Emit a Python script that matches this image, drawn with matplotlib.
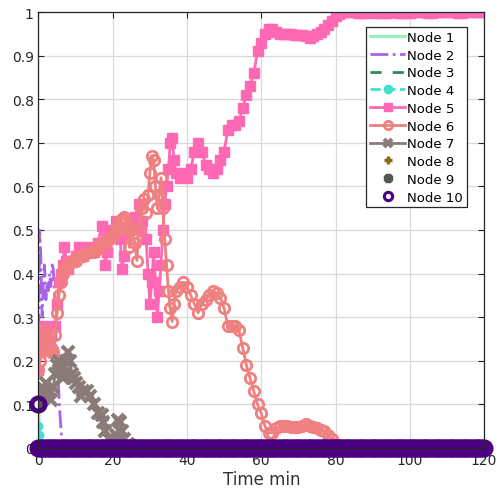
import numpy as np
import matplotlib
matplotlib.use("Agg")
import matplotlib.pyplot as plt

# Node 1..10 time series as (time in minutes, value)
node1 = [(0, 0.10), (0.2, 0.06), (0.4, 0.02), (0.6, 0.0)]

node2 = [(0, 0.20), (0.3, 0.50), (0.6, 0.45), (0.8, 0.35), (1.0, 0.30), (1.3, 0.38), (1.6, 0.42),
         (2.0, 0.34), (2.3, 0.38), (2.6, 0.36), (3.0, 0.40), (3.3, 0.37), (3.7, 0.42), (4.0, 0.41),
         (4.3, 0.35), (4.6, 0.30), (4.9, 0.18), (5.3, 0.16), (5.6, 0.10), (6.0, 0.05), (6.3, 0.02),
         (6.7, 0.005), (7.0, 0.0)]

node3 = [(0, 0.0), (0.5, 0.0)]

node4 = [(0, 0.05), (0.2, 0.03), (0.4, 0.0)]

node5 = [(0, 0.18), (0.5, 0.22), (1, 0.25), (1.5, 0.28), (2, 0.26), (3, 0.24), (4, 0.22), (4.5, 0.28),
         (5, 0.33), (5.5, 0.38), (6, 0.40), (6.5, 0.42), (7, 0.46), (7.5, 0.43), (8, 0.41), (9, 0.43),
         (10, 0.44), (11, 0.46), (12, 0.44), (13, 0.45), (14, 0.46), (15, 0.45), (16, 0.47), (17, 0.51),
         (17.5, 0.47), (18, 0.42), (18.5, 0.45), (19, 0.49), (20, 0.50), (21, 0.52), (22, 0.48),
         (22.5, 0.41), (23, 0.44), (24, 0.50), (25, 0.51), (26, 0.53), (27, 0.56), (27.5, 0.50),
         (28, 0.52), (29, 0.48), (29.5, 0.40), (30, 0.33), (30.5, 0.38), (31, 0.45), (31.5, 0.38),
         (32, 0.30), (32.5, 0.36), (33, 0.42), (33.5, 0.50), (34, 0.56), (34.5, 0.60), (35, 0.64),
         (35.5, 0.70), (36, 0.71), (36.5, 0.66), (37, 0.63), (38, 0.62), (39, 0.63), (40, 0.62),
         (41, 0.64), (42, 0.68), (43, 0.70), (44, 0.68), (45, 0.65), (46, 0.64), (47, 0.63), (48, 0.64),
         (49, 0.66), (50, 0.68), (51, 0.73), (52, 0.74), (53, 0.74), (54, 0.75), (55, 0.78), (56, 0.81),
         (57, 0.83), (58, 0.86), (59, 0.91), (60, 0.93), (61, 0.95), (62, 0.96), (63, 0.96), (64, 0.955),
         (65, 0.95), (66, 0.95), (67, 0.95), (68, 0.949), (69, 0.948), (70, 0.948), (71, 0.947),
         (72, 0.945), (73, 0.94), (74, 0.945), (75, 0.95), (76, 0.955), (77, 0.96), (78, 0.97),
         (79, 0.98), (80, 0.99), (81, 0.995), (82, 1.0), (83, 1.0), (84, 1.0), (85, 0.999), (86, 0.998),
         (87, 0.998), (88, 0.998), (89, 0.999), (90, 0.999), (91, 0.998), (92, 0.998), (93, 0.998),
         (94, 0.998), (95, 0.999), (96, 0.999), (97, 0.998), (98, 0.998), (99, 0.998), (100, 0.998),
         (101, 0.999), (102, 0.999), (103, 0.999), (104, 0.999), (105, 0.998), (106, 0.998),
         (107, 0.999), (108, 0.999), (109, 0.999), (110, 0.999), (111, 0.999), (112, 0.999),
         (113, 0.998), (114, 0.998), (115, 0.999), (116, 0.999), (117, 0.999), (118, 0.999),
         (119, 0.999), (120, 0.999)]

node6 = [(0, 0.18), (0.5, 0.20), (1, 0.23), (1.5, 0.27), (2, 0.26), (2.5, 0.24), (3, 0.23), (3.5, 0.22),
         (4, 0.22), (4.5, 0.26), (5, 0.31), (5.5, 0.35), (6, 0.38), (6.5, 0.40), (7, 0.41), (7.5, 0.415),
         (8, 0.42), (8.5, 0.425), (9, 0.43), (9.5, 0.43), (10, 0.43), (10.5, 0.435), (11, 0.44),
         (11.5, 0.44), (12, 0.44), (12.5, 0.445), (13, 0.45), (13.5, 0.45), (14, 0.45), (14.5, 0.45),
         (15, 0.45), (15.5, 0.455), (16, 0.46), (16.5, 0.465), (17, 0.47), (17.5, 0.47), (18, 0.47),
         (18.5, 0.475), (19, 0.48), (19.5, 0.485), (20, 0.49), (20.5, 0.495), (21, 0.50), (21.5, 0.51),
         (22, 0.52), (22.5, 0.525), (23, 0.53), (23.5, 0.52), (24, 0.50), (24.5, 0.46),
         (25, 0.50), (26, 0.47), (26.5, 0.43), (27, 0.50), (28, 0.55), (28.5, 0.57), (29, 0.54),
         (29.5, 0.58), (30, 0.63), (30.5, 0.67), (31, 0.66), (31.5, 0.60), (32, 0.55), (32.5, 0.58),
         (33, 0.62), (33.5, 0.55), (34, 0.48), (34.5, 0.42), (35, 0.36), (35.5, 0.32), (36, 0.29),
         (36.5, 0.33), (37, 0.36), (38, 0.37), (39, 0.38), (40, 0.37), (41, 0.35), (42, 0.33), (43, 0.31),
         (44, 0.33), (45, 0.34), (46, 0.35), (47, 0.36), (48, 0.355), (49, 0.345), (50, 0.32), (51, 0.28),
         (52, 0.28), (53, 0.28), (54, 0.27), (55, 0.23), (56, 0.19), (57, 0.16), (58, 0.13), (59, 0.10),
         (60, 0.08), (61, 0.05), (62, 0.035), (63, 0.035), (64, 0.045), (65, 0.05), (66, 0.05),
         (67, 0.05), (68, 0.049), (69, 0.048), (70, 0.049), (71, 0.05), (72, 0.055), (73, 0.05),
         (74, 0.047), (75, 0.045), (76, 0.042), (77, 0.04), (78, 0.03), (79, 0.02), (80, 0.01),
         (81, 0.005), (82, 0.002), (84, 0.003), (86, 0.002), (88, 0.003), (90, 0.004), (92, 0.003),
         (94, 0.003), (96, 0.004), (98, 0.005), (100, 0.004), (102, 0.004), (104, 0.003), (106, 0.003),
         (108, 0.003), (110, 0.003), (112, 0.002), (114, 0.002), (116, 0.002), (118, 0.002),
         (120, 0.002)]

node7 = [(0, 0.10), (0.5, 0.13), (1, 0.14), (1.5, 0.12), (2, 0.15), (3, 0.13), (3.5, 0.11), (4, 0.14),
         (4.5, 0.17), (5, 0.19), (5.5, 0.20), (6, 0.18), (6.5, 0.16), (7, 0.17), (7.5, 0.20), (8, 0.22),
         (8.5, 0.20), (9, 0.17), (9.5, 0.16), (10, 0.15), (11, 0.14), (11.5, 0.12), (12, 0.13),
         (13, 0.13), (14, 0.12), (15, 0.10), (16, 0.08), (17, 0.075), (17.5, 0.06), (18, 0.04),
         (19, 0.02), (20, 0.01), (21, 0.03), (21.5, 0.065), (22, 0.06), (22.5, 0.04), (23, 0.02),
         (24, 0.01), (25, 0.005), (26, 0.0)]

node8 = [(0, 0.0)]

node9 = [(0, 0.1)]

# node 10 sits at 0 for the whole run after the first sample (one sample per half minute)
node10 = [(0, 0.1)] + [(m / 2, 0.0) for m in range(0, 241)]

fig = plt.figure(figsize=(4.98, 5.02), dpi=100)
ax = fig.add_axes([0.0773, 0.1056, 0.8946, 0.8685])


def draw(series, **kw):
    t, v = zip(*series)
    ax.plot(t, v, **kw)


draw(node1, color="#8ff0b6", lw=2, label="Node 1")
draw(node2, color="#a864e8", lw=2, ls="-.", label="Node 2")
draw(node3, color="#2e8b57", lw=2, ls=(0, (4, 4)), label="Node 3")
draw(node4, color="#40e0d0", lw=2, ls="--", marker="o", ms=6, label="Node 4")
draw(node5, color="#ff69b4", lw=2, marker="s", ms=7.5, label="Node 5")
draw(node6, color="#f08080", lw=2, marker="o", ms=7.5, mfc="none", mew=2, label="Node 6")
draw(node7, color="#8a7b78", lw=2, marker="x", ms=8, mew=3, label="Node 7")
draw(node8, color="#8b6914", ls="none", marker="+", ms=7, mew=2.5, label="Node 8")
draw(node9, color="#555555", ls="none", marker="8", ms=6, label="Node 9")
draw(node10, color="#4b0082", ls="none", marker="o", ms=9.5, mfc="none", mew=3.5, label="Node 10",
     clip_on=False)

ax.set_xlim(0, 120)
ax.set_ylim(0, 1)
ax.set_xticks(np.arange(0, 121, 20))
ax.set_yticks(np.arange(0, 1.01, 0.1))
ax.set_yticklabels(["0", "0.1", "0.2", "0.3", "0.4", "0.5", "0.6", "0.7", "0.8", "0.9", "1"])
ax.tick_params(direction="in", length=4, top=True, right=True, labelsize=10, colors="#262626")
ax.grid(True, color="#d9d9d9", lw=0.9)
ax.set_axisbelow(True)
for s in ax.spines.values():
    s.set_color("#262626")
    s.set_linewidth(0.9)
ax.set_xlabel("Time min", fontsize=12, color="#333333", labelpad=2)

leg = ax.legend(loc="upper right", bbox_to_anchor=(0.962, 0.966), borderaxespad=0, fontsize=9.5,
                fancybox=False, framealpha=1, edgecolor="#262626", labelspacing=0.36,
                handlelength=2.6, handletextpad=0.2, borderpad=0.3)
leg.get_frame().set_linewidth(0.9)
for h in leg.legend_handles:
    h.set_markersize(6)
    if h.get_label() == "Node 10":
        h.set_markeredgewidth(2.2)

plt.savefig("out.png", dpi=100)
